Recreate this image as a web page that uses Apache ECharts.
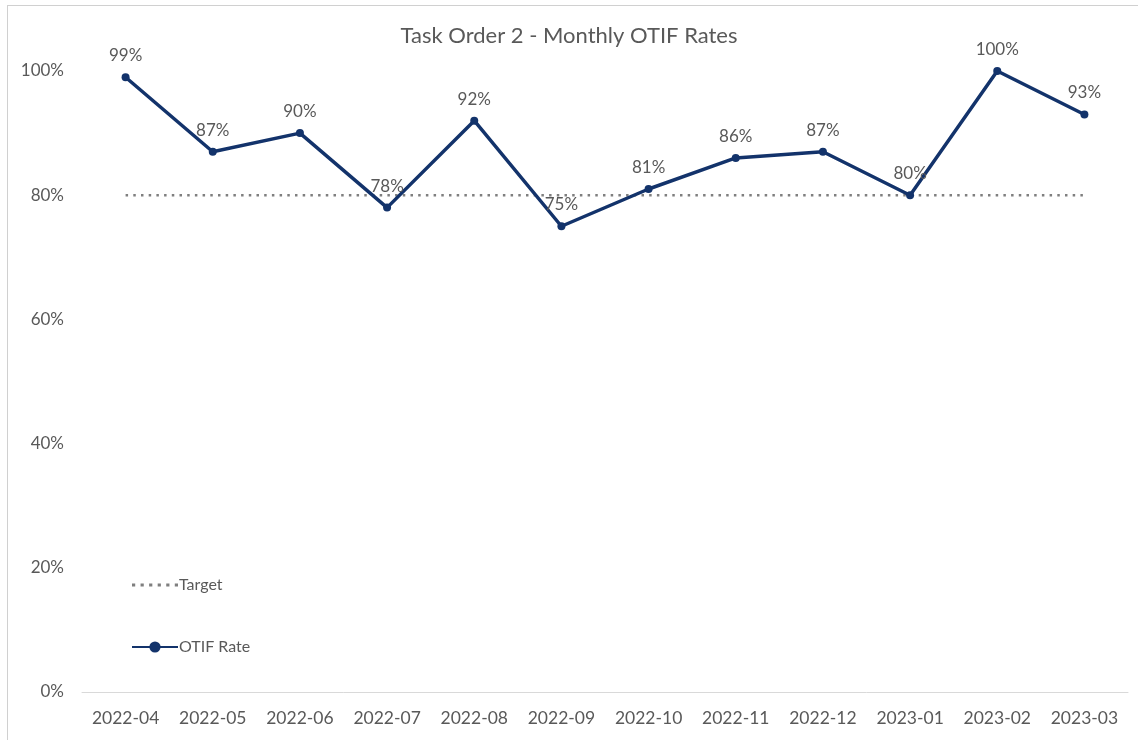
<!DOCTYPE html>
<html><head><meta charset="utf-8">
<script src="https://cdn.jsdelivr.net/npm/echarts@6/dist/echarts.min.js"></script>
<style>
html,body{margin:0;padding:0;background:#fff;overflow:hidden}
#frame{position:absolute;left:7px;top:5px;width:1140px;height:745px;border:1px solid #d0d0d0;box-sizing:border-box}
#c{position:absolute;left:0;top:0;width:1138px;height:740px}
</style></head><body>
<div id="frame"></div>
<div id="c"></div>
<script>
const categories = ['2022-04','2022-05','2022-06','2022-07','2022-08','2022-09','2022-10','2022-11','2022-12','2023-01','2023-02','2023-03'];
const otifRate = [99, 87, 90, 78, 92, 75, 81, 86, 87, 80, 100, 93];
const target = [80, 80, 80, 80, 80, 80, 80, 80, 80, 80, 80, 80];
const yTicks = [0, 20, 40, 60, 80, 100];

const font = 'Lato, "Open Sans", sans-serif';
const gray = '#595959';
const navy = '#13336b';
const dotsIcon = 'path://M0,0h3v3h-3zM8,0h3v3h-3zM16,0h3v3h-3zM24,0h3v3h-3zM32,0h3v3h-3zM40,0h3v3h-3z';
const chart = echarts.init(document.getElementById('c'));
chart.setOption({
  animation: false,
  textStyle: {fontFamily: font},
  title: {
    text: 'Task Order 2 - Monthly OTIF Rates',
    left: 'center', top: 20,
    textStyle: {fontFamily: font, fontSize: 22, fontWeight: 'normal', color: gray}
  },
  grid: {left: 82, right: 10, top: 71, bottom: 48},
  legend: {
    orient: 'vertical', left: 126, top: 572, itemGap: 46, itemWidth: 46, itemHeight: 14,
    data: [{name: 'Target', icon: dotsIcon}, {name: 'OTIF Rate'}],
    textStyle: {fontFamily: font, fontSize: 16, color: gray, padding: [0,0,0,-4]}
  },
  xAxis: {
    type: 'category', data: categories, boundaryGap: true,
    axisLine: {lineStyle: {color: '#d9d9d9', width: 1}},
    axisTick: {show: false},
    axisLabel: {color: gray, fontSize: 17.5, fontFamily: font, margin: 17, interval: 0}
  },
  yAxis: {
    type: 'value', min: yTicks[0], max: yTicks[yTicks.length-1], interval: 20,
    splitLine: {show: false}, axisLine: {show: false}, axisTick: {show: false},
    axisLabel: {color: gray, fontSize: 17, fontFamily: font, margin: 18, formatter: '{value}%'}
  },
  series: [
    {
      name: 'Target', type: 'line', data: target, symbol: 'none',
      lineStyle: {color: '#7f7f7f', width: 2.5, type: [2.5, 5.2]},
      itemStyle: {color: '#7f7f7f'}, z: 1
    },
    {
      name: 'OTIF Rate', type: 'line', data: otifRate,
      symbol: 'circle', symbolSize: 8,
      lineStyle: {color: navy, width: 3.5},
      itemStyle: {color: navy},
      label: {show: true, position: 'top', distance: 9, color: gray, fontSize: 17, fontFamily: font, formatter: '{c}%'},
      z: 2
    }
  ]
});
</script>
</body></html>
